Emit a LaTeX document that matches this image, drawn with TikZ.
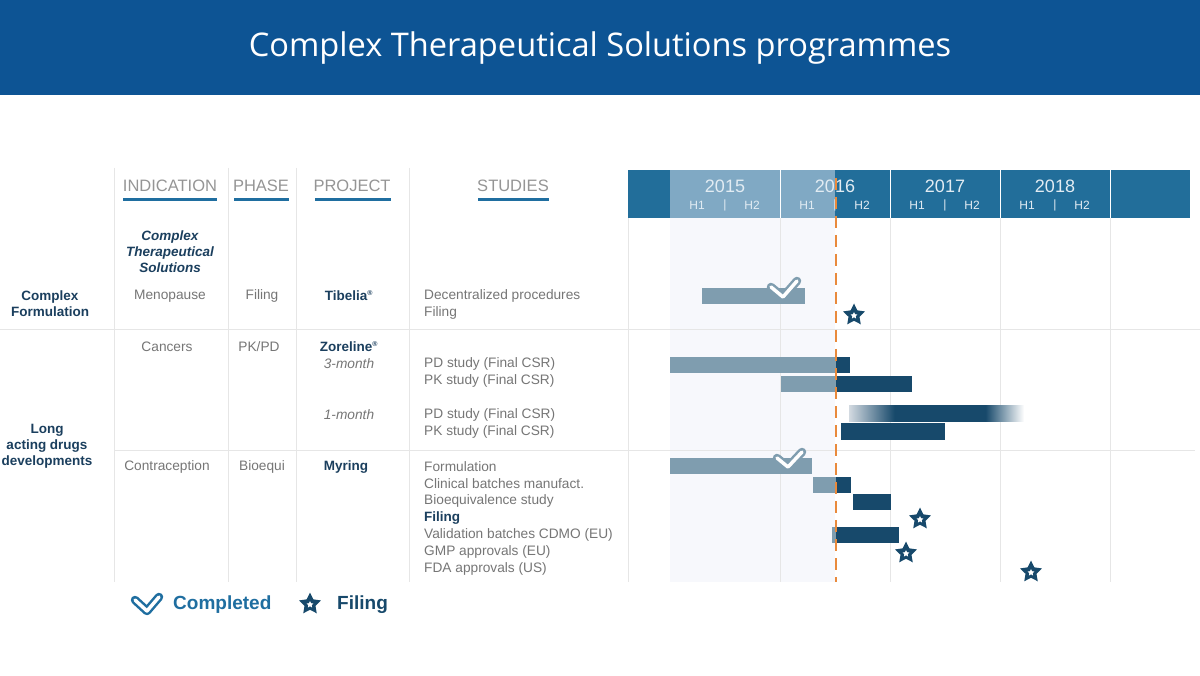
\documentclass[tikz,border=0pt]{standalone}
\usepackage{fontspec}
\setmainfont{Liberation Sans}
\newfontfamily\titlefont{Open Sans}
\usetikzlibrary{shapes.geometric}
\definecolor{hdrblue}{HTML}{0D5494}
\definecolor{gdark}{HTML}{226E9A}
\definecolor{glight}{HTML}{80A9C4}
\definecolor{barlight}{HTML}{7F9DAF}
\definecolor{bardark}{HTML}{17496B}
\definecolor{navy}{HTML}{1B3F5E}
\definecolor{txtgray}{HTML}{767676}
\definecolor{hdgray}{HTML}{959595}
\definecolor{ulblue}{HTML}{1F6EA0}
\definecolor{orng}{HTML}{E98A3C}
\definecolor{gridgray}{HTML}{E6E6E6}
\definecolor{shadecol}{HTML}{F7F8FC}
\definecolor{yrtxt}{HTML}{E2ECF3}
\definecolor{fadeend}{HTML}{D3DAE1}
\pgfdeclarehorizontalshading{fadebar}{100bp}{color(0bp)=(fadeend); color(25bp)=(fadeend); color(38bp)=(bardark); color(64bp)=(bardark); color(75bp)=(white); color(100bp)=(white)}
\begin{document}
\begin{tikzpicture}[x=1pt,y=-1pt,
  colhead/.style={font=\fontsize{16.5}{18}\selectfont, text=hdgray, inner sep=0pt},
  body/.style={font=\fontsize{13.7}{16}\selectfont, text=txtgray, inner sep=0pt},
  studytxt/.style={body, anchor=west},
  boldnavy/.style={font=\fontsize{13.5}{16}\selectfont\bfseries, text=navy, inner sep=0pt, align=center},
  ital/.style={font=\fontsize{13.7}{16}\selectfont\itshape, text=txtgray, inner sep=0pt},
  underl/.style={ulblue, line width=3pt},
  grid/.style={gridgray, line width=1pt},
  yr/.style={font=\fontsize{18}{20}\selectfont, text=yrtxt, inner sep=0pt},
  half/.style={font=\fontsize{12}{14}\selectfont, text=yrtxt, inner sep=0pt},
  lbar/.style={fill=barlight},
  dbar/.style={fill=bardark},
  starout/.style={star, star points=5, star point ratio=2.0, minimum size=23pt, inner sep=0pt, fill=bardark},
  starin/.style={star, star points=5, star point ratio=2.0, minimum size=7pt, inner sep=0pt, fill=white},
  checkout/.style={line width=8.5pt, line cap=round, line join=round},
  checkin/.style={white, line width=3.5pt, line cap=round, line join=round},
]
\newcommand{\starat}[3]{\node[starout] (#1) at (#2,#3) {}; \node[starin] (#1in) at (#2,#3+0.6) {};}
\useasboundingbox (0,0) rectangle (1200,676);
\fill[white] (0,0) rectangle (1200,676);
% title band
\fill[hdrblue] (0,0) rectangle (1200,95);
\node[font=\titlefont\fontsize{32.6}{38}\selectfont, text=white] (title) at (600,48) {Complex Therapeutical Solutions programmes};

% shaded current period
\fill[shadecol] (670,218) rectangle (835,582);

% grid
\foreach \x in {114,228,296,409} \draw[grid] (\x,168) -- (\x,582);
\draw[grid] (628,218) -- (628,582);
\foreach \x in {780,890,1000,1110} \draw[grid] (\x,218) -- (\x,582);
\draw[grid] (0,330) -- (1200,330);
\draw[grid] (114,450) -- (1195,450);

% column headers
\node[colhead] (hind) at (170,186) {INDICATION};
\node[colhead] (hpha) at (261,186) {PHASE};
\node[colhead] (hpro) at (352,186) {PROJECT};
\node[colhead] (hstu) at (513,186) {STUDIES};
\draw[underl] (123,200) -- (217,200);
\draw[underl] (234,200) -- (289,200);
\draw[underl] (315,200) -- (391,200);
\draw[underl] (478,200) -- (549,200);

% gantt header
\fill[gdark] (628,170) rectangle (1190,218);
\fill[glight] (670,170) rectangle (835,218);
\foreach \x in {780,890,1000,1110} \draw[white, line width=1pt] (\x,170) -- (\x,218);
\foreach \x/\y/\n in {725/2015/a,835/2016/b,945/2017/c,1055/2018/d}{
  \node[yr] (yr\n) at (\x,186) {\y};
  \node[half] (h1\n) at (\x-28,205) {H1};
  \node[half] (sep\n) at (\x,205) {|};
  \node[half] (h2\n) at (\x+27,205) {H2};
}

% left group labels
\node[boldnavy] (cf) at (50,304) {Complex\\Formulation};
\node[boldnavy] (la) at (47,446) {Long\\acting drugs\\developments};
\node[font=\fontsize{13.5}{16}\selectfont\bfseries\itshape, text=navy, inner sep=0pt, align=center] (cts) at (170,252) {Complex\\Therapeutical\\Solutions};

% Tibelia row
\node[body] (meno) at (170,296) {Menopause};
\node[body] (fil1) at (262,296) {Filing};
\node[boldnavy] (tib) at (349,296) {Tibelia\textsuperscript{\fontsize{7}{8}\selectfont\textregistered}};
\node[studytxt] (s1) at (424,296) {Decentralized procedures};
\node[studytxt] (s2) at (424,313) {Filing};

% Zoreline
\node[body] (canc) at (167,347) {Cancers};
\node[body] (pkpd) at (259,347) {PK/PD};
\node[boldnavy] (zor) at (349,347) {Zoreline\textsuperscript{\fontsize{7}{8}\selectfont\textregistered}};
\node[ital] (m3) at (349,364) {3-month};
\node[ital] (m1) at (349,415) {1-month};
\node[studytxt] (s3) at (424,364) {PD study (Final CSR)};
\node[studytxt] (s4) at (424,381) {PK study (Final CSR)};
\node[studytxt] (s5) at (424,415) {PD study (Final CSR)};
\node[studytxt] (s6) at (424,432) {PK study (Final CSR)};

% Myring
\node[body] (contra) at (167,467) {Contraception};
\node[body] (bioeq) at (262,467) {Bioequi};
\node[boldnavy] (myr) at (346,467) {Myring};
\node[studytxt] (s7) at (424,467) {Formulation};
\node[studytxt] (s8) at (424,484) {Clinical batches manufact.};
\node[studytxt] (s9) at (424,501) {Bioequivalence study};
\node[boldnavy, anchor=west] (s10) at (424,518) {Filing};
\node[studytxt] (s11) at (424,535) {Validation batches CDMO (EU)};
\node[studytxt] (s12) at (424,552) {GMP approvals (EU)};
\node[studytxt] (s13) at (424,569) {FDA approvals (US)};

% bars
\fill[lbar] (702,288) rectangle (805,304);
\fill[lbar] (670,357) rectangle (836,373);
\fill[dbar] (836,357) rectangle (850,373);
\fill[lbar] (781,376) rectangle (836,392);
\fill[dbar] (836,376) rectangle (912,392);
\shade[shading=fadebar] (849,405) rectangle (1024,421);
\fill[dbar] (841,423) rectangle (945,440);
\fill[lbar] (670,458) rectangle (812,474);
\fill[lbar] (813,477) rectangle (836,493);
\fill[dbar] (836,477) rectangle (851,493);
\fill[dbar] (853,494) rectangle (891,510);
\fill[lbar] (832,527) rectangle (836,543);
\fill[dbar] (836,527) rectangle (899,543);

% check marks on bars
\draw[barlight, checkout] (771,287) -- (783,297) -- (797,281);
\draw[checkin] (771,287) -- (783,297) -- (797,281);
\draw[barlight, checkout] (777,458) -- (788,467) -- (802,452);
\draw[checkin] (777,458) -- (788,467) -- (802,452);

% today line
\draw[orng, line width=2.5pt, dash pattern=on 12pt off 7pt] (836,178) -- (836,582);

% stars
\starat{st1}{854}{315}
\starat{st2}{920}{519}
\starat{st3}{906}{553}
\starat{st4}{1031}{572}

% legend
\draw[ulblue, checkout] (135,600) -- (147,611) -- (159,597);
\draw[checkin] (135,600) -- (147,611) -- (159,597);
\node[font=\fontsize{19}{21}\selectfont\bfseries, text=ulblue, anchor=west, inner sep=0pt] (lgc) at (173,605) {Completed};
\starat{lgs}{310}{604}
\node[font=\fontsize{19}{21}\selectfont\bfseries, text=bardark, anchor=west, inner sep=0pt] (lgf) at (337,605) {Filing};
\end{tikzpicture}
\end{document}
